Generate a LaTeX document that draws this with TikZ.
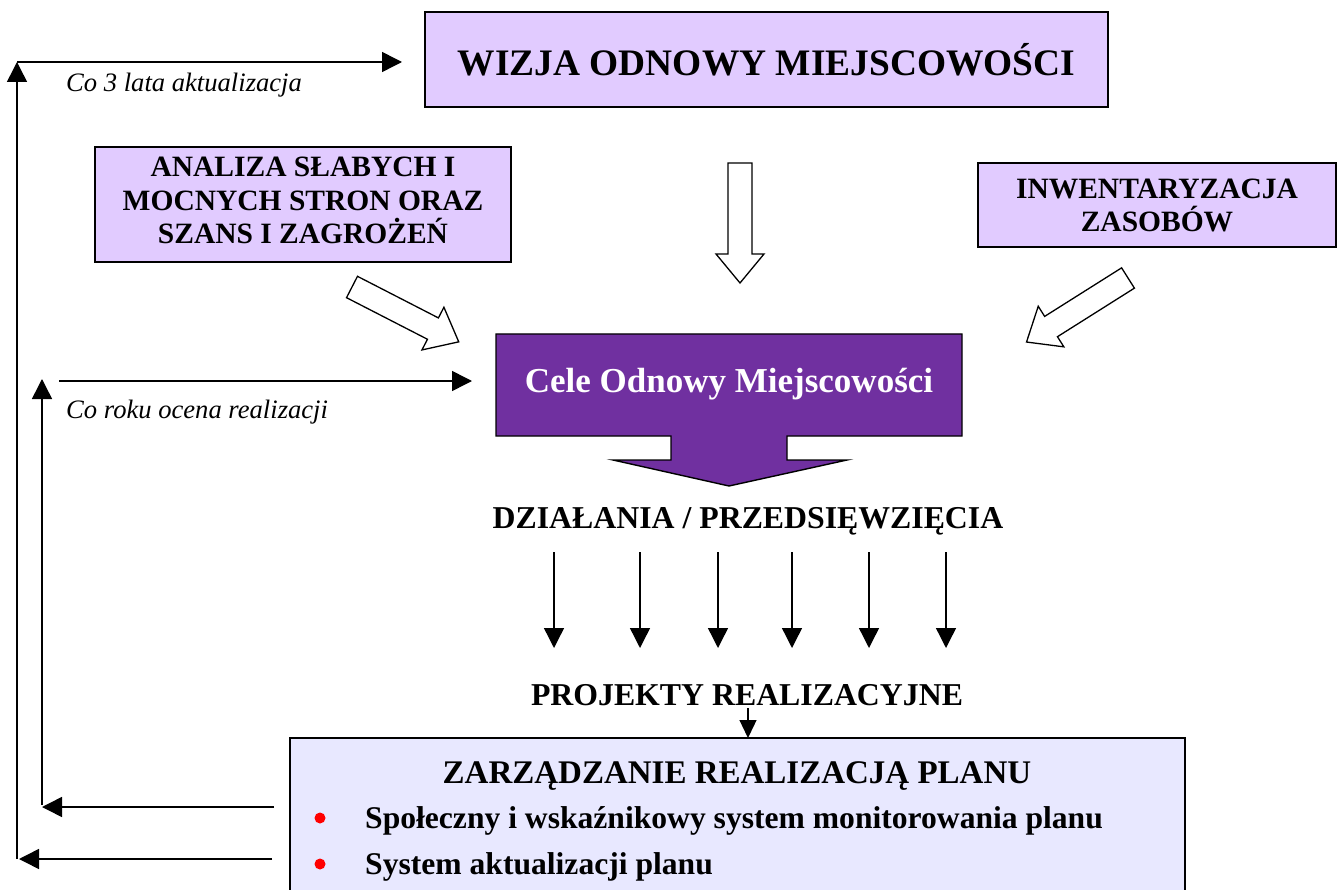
\documentclass[tikz,border=0pt]{standalone}
\usepackage{fontspec}
\setmainfont{Liberation Serif}
\usetikzlibrary{arrows.meta}
\definecolor{lav}{HTML}{E1CBFF}
\definecolor{celepurple}{HTML}{7030A0}
\definecolor{lightlav}{HTML}{E8E8FF}
\tikzset{
  box/.style={draw=black, line width=1.4pt, fill=lav, align=center, inner sep=0pt, font=\bfseries},
  conn/.style={line width=1.5pt, -{Triangle[length=20pt,width=20pt]}},
  smallarr/.style={line width=1.4pt, -{Triangle[length=20pt,width=20pt]}},
  blk/.style={draw=black, line width=1.3pt, fill=white, line join=miter},
  lbl/.style={inner sep=0pt, anchor=base},
}
\newcommand\blockarr[3]{\begin{scope}[shift={(#1,#2)}, rotate=#3]
  \draw[blk] (0,-12) -- (91,-12) -- (91,-24) -- (120,0) -- (91,24) -- (91,12) -- (0,12) -- cycle;
\end{scope}}
\begin{document}
\begin{tikzpicture}[x=1pt,y=-1pt]
\useasboundingbox (0,0) rectangle (1338,890);

% boxes
\node[box, minimum width=683, minimum height=95, font=\fontsize{37.4}{40}\selectfont\bfseries] (wizja) at (766.5,59.5) {WIZJA ODNOWY MIEJSCOWOŚCI};
\node[box, minimum width=416, minimum height=115] (analiza) at (303,204.5) {};
\node[align=center, inner sep=0pt, font=\fontsize{29.5}{33.5}\selectfont\bfseries] (analizatxt) at (303,200.5) {ANALIZA SŁABYCH I\\MOCNYCH STRON ORAZ\\SZANS I ZAGROŻEŃ};
\node[box, minimum width=358, minimum height=84, font=\fontsize{29.5}{33}\selectfont\bfseries] (inwent) at (1157,205) {INWENTARYZACJA\\ZASOBÓW};

% Cele callout
\draw[fill=celepurple, line width=1.4pt] (496,334) -- (962,334) -- (962,436) -- (787,436) -- (787,460) -- (847,460) -- (729,486) -- (613,460) -- (671,460) -- (671,436) -- (496,436) -- cycle;
\node[lbl, text=white, font=\fontsize{35}{40}\selectfont\bfseries] (cele) at (729,392) {Cele Odnowy Miejscowości};

% block arrows
\blockarr{740}{163}{-90}
\blockarr{352}{287}{-27.2}
\blockarr{1128}{278}{-147.75}

% middle texts
\node[lbl, font=\fontsize{31.8}{36}\selectfont\bfseries] (dzial) at (748,528) {DZIAŁANIA / PRZEDSIĘWZIĘCIA};
\foreach \i/\xx in {1/554,2/640,3/718,4/792,5/869,6/946}{
  \coordinate (a\i) at (\xx,552);
  \coordinate (b\i) at (\xx,648);
  \draw[smallarr] (a\i) -- (b\i);
}
\node[lbl, font=\fontsize{31.8}{36}\selectfont\bfseries] (proj) at (747,705) {PROJEKTY REALIZACYJNE};

% bottom box
\draw[line width=1.4pt, fill=lightlav] (290,900) -- (290,738) -- (1185,738) -- (1185,900);
\coordinate (zarz) at (737.5,738);
\coordinate (projarr) at (748,708);
\draw[line width=1.3pt, -{Triangle[length=18pt,width=17pt]}] (projarr) -- (zarz -| projarr);
\node[lbl, font=\fontsize{33}{36}\selectfont\bfseries] (ztitle) at (737,783) {ZARZĄDZANIE REALIZACJĄ PLANU};
\fill[red] (320,818) circle (5.5);
\fill[red] (320,864) circle (5.5);
\node[lbl, anchor=base west, font=\fontsize{31.6}{36}\selectfont\bfseries] (item1) at (365,828.5) {Społeczny i wskaźnikowy system monitorowania planu};
\node[lbl, anchor=base west, font=\fontsize{31.6}{36}\selectfont\bfseries] (item2) at (365,874) {System aktualizacji planu};

% feedback loops
\coordinate (t1) at (17,62);
\coordinate (t1e) at (402,62);
\coordinate (b1s) at (272,859);
\coordinate (b1e) at (19,859);
\coordinate (v1s) at (17,859);
\draw[conn] (b1s) -- (b1e);
\draw[conn] (v1s) -- (17,62);
\draw[conn] (t1) -- (t1e);
\node[lbl, anchor=base west, font=\fontsize{26.6}{30}\selectfont\itshape] (lbl1) at (66,92) {Co 3 lata aktualizacja};

\coordinate (b2s) at (274,807);
\coordinate (b2e) at (42,807);
\coordinate (v2s) at (42,805);
\coordinate (v2e) at (42,379);
\coordinate (h2s) at (59,381);
\coordinate (h2e) at (472,381);
\draw[conn] (b2s) -- (b2e);
\draw[conn] (v2s) -- (v2e);
\draw[conn] (h2s) -- (h2e);
\node[lbl, anchor=base west, font=\fontsize{26.6}{30}\selectfont\itshape] (lbl2) at (66,418) {Co roku ocena realizacji};
\end{tikzpicture}
\end{document}
